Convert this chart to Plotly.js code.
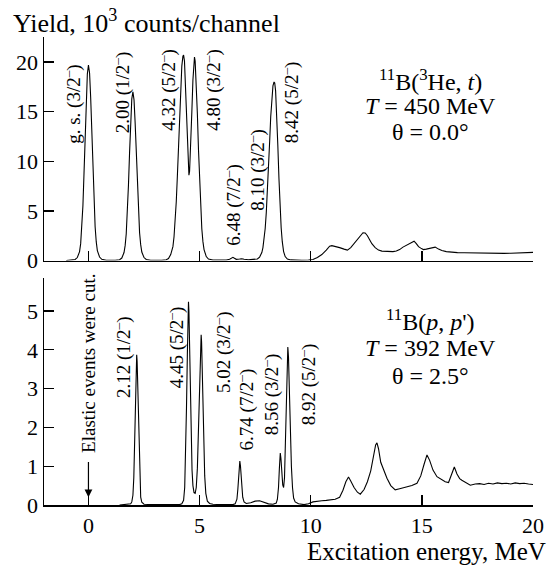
<!DOCTYPE html>
<html>
<head>
<meta charset="utf-8">
<script src="https://cdn.plot.ly/plotly-3.0.1.min.js"></script>
<style>html,body{margin:0;padding:0;background:#fff;}#chart{width:549px;height:566px;}</style>
</head>
<body>
<div id="chart"></div>
<script>
// ---- Top panel: 11B(3He,t), yield in 10^3 counts/channel ----
const heEnergy = [-1.0,-0.8,-0.6,-0.5,-0.4,-0.35,-0.3,-0.25,-0.2,-0.15,-0.1,-0.05,0.0,0.05,0.1,0.15,0.2,0.25,0.3,0.35,0.4,0.5,0.6,0.8,1.0,
  1.2,1.4,1.5,1.6,1.65,1.7,1.75,1.8,1.85,1.9,1.95,2.0,2.05,2.1,2.15,2.2,2.25,2.3,2.35,2.4,2.5,2.6,2.8,3.0,3.3,3.5,
  3.6,3.7,3.8,3.85,3.9,3.95,4.0,4.05,4.1,4.15,4.2,4.25,4.28,4.32,4.36,4.4,4.45,4.5,4.52,4.55,4.6,4.65,4.7,4.74,4.77,4.8,4.85,4.9,4.95,5.0,5.05,5.1,5.15,5.2,5.3,5.4,5.6,5.8,
  6.0,6.2,6.35,6.45,6.5,6.55,6.65,6.8,6.9,7.0,7.2,7.4,7.6,7.7,7.8,7.85,7.9,7.95,8.0,8.05,8.1,8.15,8.2,8.25,8.3,8.35,8.38,8.42,8.47,8.52,8.57,8.62,8.67,8.72,8.78,8.85,8.95,9.1,9.3,9.6,9.9,
  10.1,10.3,10.5,10.7,10.85,10.95,11.1,11.3,11.5,11.65,11.8,11.95,12.1,12.25,12.35,12.45,12.55,12.65,12.75,12.9,13.05,13.2,13.4,13.55,13.7,13.85,14.0,14.15,14.3,14.45,14.55,14.65,14.75,14.85,14.95,15.07,15.2,15.35,15.5,15.6,15.75,15.9,16.1,16.3,
  16.6,16.9,17.2,17.5,17.8,18.1,18.4,18.7,19.0,19.3,19.6,19.8,20.0];
const heYield = [0.0,0.02,0.1,0.3,0.9,1.7,3.2,5.5,8.8,12.6,16.2,18.8,19.7,18.9,16.4,12.9,9.1,5.8,3.4,1.9,1.0,0.35,0.12,0.03,0.02,
  0.02,0.08,0.25,0.8,1.5,2.7,4.7,7.6,10.9,14.0,16.3,17.0,16.2,13.9,10.8,7.5,4.8,2.8,1.6,0.85,0.3,0.1,0.03,0.02,0.03,0.08,
  0.2,0.6,1.4,2.4,3.9,5.9,8.5,11.6,14.8,17.6,19.6,20.6,20.7,20.1,17.8,14.6,11.0,8.8,8.6,9.0,11.3,14.9,18.2,20.1,20.5,20.1,18.0,14.8,11.2,7.9,5.2,3.2,1.9,1.1,0.4,0.15,0.05,0.03,
  0.03,0.05,0.12,0.3,0.32,0.25,0.12,0.15,0.18,0.12,0.08,0.12,0.15,0.35,0.8,1.3,2.1,3.2,4.8,6.8,9.2,11.9,14.5,16.4,17.6,18.0,17.9,17.1,14.8,11.6,8.3,5.4,3.3,1.9,0.9,0.4,0.15,0.06,0.03,0.03,0.05,
  0.1,0.3,0.6,1.05,1.45,1.5,1.38,1.3,1.15,1.05,1.3,1.7,2.1,2.55,2.8,2.78,2.5,2.1,1.7,1.3,1.05,0.95,0.9,0.92,0.9,0.95,1.1,1.35,1.55,1.75,1.9,1.95,1.7,1.4,1.25,1.1,1.15,1.25,1.3,1.35,1.15,1.0,0.9,0.83,
  0.8,0.79,0.77,0.76,0.77,0.74,0.75,0.72,0.73,0.74,0.75,0.79,0.82];

// ---- Bottom panel: 11B(p,p') ----
const ppEnergy = [1.4,1.7,1.9,1.95,2.0,2.04,2.08,2.11,2.14,2.17,2.19,2.22,2.25,2.28,2.31,2.35,2.4,2.5,2.8,3.2,3.6,3.9,
  4.1,4.2,4.28,4.33,4.37,4.41,4.45,4.48,4.5,4.52,4.55,4.58,4.62,4.66,4.7,4.75,4.8,4.85,4.9,4.94,4.98,5.02,5.05,5.07,5.09,5.12,5.15,5.19,5.23,5.28,5.35,5.45,5.6,5.9,6.2,6.5,
  6.6,6.68,6.72,6.76,6.79,6.81,6.84,6.87,6.9,6.94,7.0,7.1,7.3,7.5,7.7,7.9,8.1,8.3,8.45,8.5,8.55,8.59,8.63,8.66,8.7,8.74,8.78,8.82,8.86,8.9,8.94,8.97,9.0,9.04,9.08,9.13,9.18,9.23,9.3,9.45,9.7,9.9,
  10.1,10.3,10.5,10.7,10.9,11.1,11.3,11.45,11.58,11.7,11.8,11.95,12.1,12.23,12.4,12.55,12.7,12.82,12.92,12.98,13.05,13.15,13.3,13.43,13.6,13.8,14.0,14.15,14.33,14.55,14.78,14.95,15.1,15.23,15.35,15.5,15.68,15.9,16.05,16.2,16.32,16.46,16.58,16.7,16.8,17.0,17.18,
  17.4,17.6,17.8,18.0,18.2,18.4,18.6,18.8,19.0,19.2,19.4,19.6,19.8,20.0];
const ppYield = [0.0,0.01,0.03,0.08,0.25,0.7,1.6,2.6,3.5,3.87,3.7,3.0,2.0,1.15,0.55,0.2,0.07,0.02,0.01,0.01,0.01,0.01,
  0.01,0.03,0.12,0.45,1.2,2.5,3.9,4.9,5.24,5.0,4.1,2.9,1.7,0.9,0.5,0.32,0.3,0.45,0.95,1.8,2.9,3.9,4.3,4.39,4.2,3.5,2.5,1.5,0.75,0.3,0.1,0.04,0.02,0.01,0.01,0.01,
  0.03,0.15,0.4,0.8,1.05,1.13,1.0,0.72,0.42,0.2,0.08,0.04,0.06,0.1,0.11,0.08,0.03,0.02,0.05,0.15,0.45,0.95,1.34,1.2,0.8,0.52,0.45,0.7,1.6,2.8,3.8,4.07,3.8,2.9,1.9,1.0,0.45,0.18,0.08,0.03,0.01,0.03,
  0.08,0.1,0.11,0.12,0.13,0.15,0.2,0.38,0.6,0.72,0.62,0.45,0.33,0.28,0.4,0.6,0.88,1.25,1.55,1.6,1.45,1.1,0.85,0.69,0.5,0.39,0.42,0.44,0.47,0.5,0.56,0.75,1.05,1.29,1.15,0.9,0.73,0.65,0.6,0.58,0.75,0.98,0.8,0.68,0.64,0.56,0.51,
  0.54,0.55,0.53,0.56,0.54,0.57,0.55,0.56,0.54,0.57,0.55,0.56,0.54,0.53];

// ---- Tick values ----
const xTicks = [0, 5, 10, 15, 20];
const yTicksTop = [0, 5, 10, 15, 20];
const yTicksBottom = [0, 1, 2, 3, 4, 5];

// ---- Peak labels ----
const heLabelText = ['g. s. (3/2<sup>–</sup>)','2.00 (1/2<sup>–</sup>)','4.32 (5/2<sup>–</sup>)','4.80 (3/2<sup>–</sup>)','6.48 (7/2<sup>–</sup>)','8.10 (3/2<sup>–</sup>)','8.42 (5/2<sup>–</sup>)'];
const heLabelX = [-0.7, 1.5, 3.52, 5.55, 6.45, 7.58, 9.1];
const heLabelY = [11.6, 12.6, 12.85, 12.85, 1.26, 4.8, 11.6];
const ppLabelText = ['Elastic events were cut.','2.12 (1/2<sup>–</sup>)','4.45 (5/2<sup>–</sup>)','5.02 (3/2<sup>–</sup>)','6.74 (7/2<sup>–</sup>)','8.56 (3/2<sup>–</sup>)','8.92 (5/2<sup>–</sup>)'];
const ppLabelX = [0.0, 1.5, 3.9, 6.0, 7.05, 8.18, 9.83];
const ppLabelY = [1.29, 2.7, 2.96, 2.83, 1.36, 1.75, 2.0];

const FONT = '"Liberation Serif", "Times New Roman", Times, serif';
const traces = [
  {x: heEnergy, y: heYield, xaxis: 'x', yaxis: 'y', mode: 'lines', line: {color: '#000', width: 1.1}, hoverinfo: 'skip'},
  {x: ppEnergy, y: ppYield, xaxis: 'x2', yaxis: 'y2', mode: 'lines', line: {color: '#000', width: 1.1}, hoverinfo: 'skip'}
];

const axisCommon = {showgrid: false, zeroline: false, showline: true, linecolor: '#000', linewidth: 1.5,
  ticks: 'inside', ticklen: 10, tickwidth: 1.3, tickcolor: '#000', tickfont: {family: FONT, size: 22, color: '#000'}};

const annotations = [];
heLabelText.forEach((t, i) => annotations.push({xref: 'x', yref: 'y', x: heLabelX[i], y: heLabelY[i], text: t,
  textangle: -90, showarrow: false, xanchor: 'center', yanchor: 'bottom', font: {family: FONT, size: 19, color: '#000'}}));
ppLabelText.forEach((t, i) => annotations.push({xref: 'x2', yref: 'y2', x: ppLabelX[i], y: ppLabelY[i], text: t,
  textangle: -90, showarrow: false, xanchor: 'center', yanchor: 'bottom', font: {family: FONT, size: 19, color: '#000'}}));
annotations.push({xref: 'x2', yref: 'y2', x: 0, y: 0.2, axref: 'x2', ayref: 'y2', ax: 0, ay: 1.15, text: '',
  showarrow: true, arrowhead: 2, arrowsize: 1.3, arrowwidth: 1.2, arrowcolor: '#000'});
const heInfo = ['<sup>11</sup>B(<sup>3</sup>He, <i>t</i>)', '<i>T</i> = 450 MeV', 'θ = 0.0°'];
const heInfoY = [18.2, 15.57, 12.95];
const ppInfo = ['<sup>11</sup>B(<i>p</i>, <i>p</i>\')', '<i>T</i> = 392 MeV', 'θ = 2.5°'];
const ppInfoY = [4.76, 4.04, 3.32];
heInfo.forEach((t, i) => annotations.push({xref: 'x', yref: 'y', x: 15.4, y: heInfoY[i], text: t, showarrow: false,
  xanchor: 'center', yanchor: 'middle', font: {family: FONT, size: 24, color: '#000'}}));
ppInfo.forEach((t, i) => annotations.push({xref: 'x2', yref: 'y2', x: 15.4, y: ppInfoY[i], text: t, showarrow: false,
  xanchor: 'center', yanchor: 'middle', font: {family: FONT, size: 24, color: '#000'}}));
annotations.push({xref: 'paper', yref: 'paper', x: -0.068, y: 1.034, text: 'Yield, 10<sup>3</sup> counts/channel', showarrow: false,
  xanchor: 'left', yanchor: 'middle', font: {family: FONT, size: 26, color: '#000'}});
annotations.push({xref: 'paper', yref: 'paper', x: 1.03, y: -0.1, text: 'Excitation energy, MeV', showarrow: false,
  xanchor: 'right', yanchor: 'middle', font: {family: FONT, size: 25, color: '#000'}});

const layout = {
  width: 549, height: 566,
  margin: {l: 44, r: 16, t: 37, b: 61},
  paper_bgcolor: '#fff', plot_bgcolor: '#fff',
  showlegend: false,
  font: {family: FONT, color: '#000'},
  xaxis: Object.assign({}, axisCommon, {domain: [0, 1], anchor: 'y', range: [-2, 20], tickvals: xTicks, showticklabels: false}),
  yaxis: Object.assign({}, axisCommon, {domain: [0.5224, 1], anchor: 'x', range: [0, 22.53], tickvals: yTicksTop}),
  xaxis2: Object.assign({}, axisCommon, {domain: [0, 1], anchor: 'y2', range: [-2, 20], tickvals: xTicks}),
  yaxis2: Object.assign({}, axisCommon, {domain: [0, 0.485], anchor: 'x2', range: [0, 5.85], tickvals: yTicksBottom}),
  annotations: annotations
};

Plotly.newPlot('chart', traces, layout, {staticPlot: true, displayModeBar: false});
</script>
</body>
</html>
